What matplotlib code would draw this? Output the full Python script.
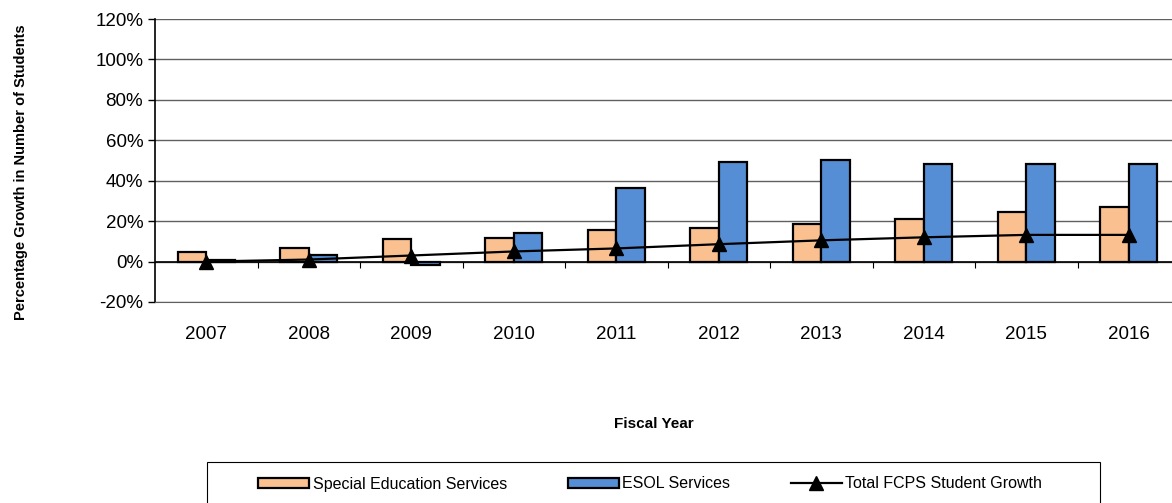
import matplotlib

matplotlib.use("Agg")
import matplotlib.pyplot as plt
import numpy as np
from matplotlib.patches import Rectangle
from matplotlib.ticker import FuncFormatter, MultipleLocator

years = ["2007", "2008", "2009", "2010", "2011", "2012", "2013", "2014", "2015", "2016"]
special_ed = [4.7, 6.6, 11.0, 11.9, 15.5, 16.8, 18.6, 20.9, 24.3, 27.0]
esol = [0.8, 3.3, -1.8, 14.0, 36.3, 49.5, 50.1, 48.5, 48.2, 48.2]
total_growth = [0.0, 1.0, 3.0, 5.0, 6.5, 8.6, 10.5, 12.0, 13.2, 13.2]

plt.rcParams["font.family"] = ["Liberation Sans", "DejaVu Sans"]

W, H = 1172, 503
fig = plt.figure(figsize=(W / 100, H / 100), dpi=100)
ax = fig.add_axes([155 / W, 1 - 302 / H, 1.0 - 155 / W, 283 / H])

x = np.arange(len(years))
w = 0.28
b1 = ax.bar(x - w / 2, special_ed, w, color="#FAC090", edgecolor="black", linewidth=1.6,
            label="Special Education Services", zorder=3)
b2 = ax.bar(x + w / 2, esol, w, color="#558ED5", edgecolor="black", linewidth=1.6,
            label="ESOL Services", zorder=3)
(ln,) = ax.plot(x, total_growth, color="black", linewidth=1.6, marker="^", markersize=10,
                label="Total FCPS Student Growth", zorder=4)

ax.axhline(0, color="black", linewidth=1.2, zorder=2)
ax.vlines(x[:-1] + 0.5, -3, 0, color="black", linewidth=0.8, zorder=2)

ax.set_ylim(-20, 120)
ax.set_xlim(-0.5, -0.5 + (W - 155) / 102.5)
ax.yaxis.set_major_locator(MultipleLocator(20))
ax.yaxis.set_major_formatter(FuncFormatter(lambda v, _: f"{v:.0f}%"))
ax.grid(axis="y", color="#606060", linewidth=1.0, zorder=0)
ax.set_xticks(x, years)
ax.tick_params(axis="x", length=0, pad=17, labelsize=13.5)
ax.tick_params(axis="y", direction="out", length=5, labelsize=13.5, width=1)
for side in ("top", "right"):
    ax.spines[side].set_visible(False)
ax.spines["bottom"].set_color("#606060")
ax.spines["left"].set_linewidth(1.2)

ax.set_ylabel("Percentage Growth in Number of Students", fontsize=10.5, fontweight="bold")
ax.yaxis.set_label_coords(-0.125, 0.46)
fig.text(653.5 / W, 1 - 424 / H, "Fiscal Year", ha="center", va="center", fontsize=11, fontweight="bold")

# legend box runs off the bottom edge of the picture
fig.patches.append(Rectangle((207 / W, -0.05), (1100 - 207) / W, 0.05 + (H - 462) / H,
                             transform=fig.transFigure, facecolor="white",
                             edgecolor="black", linewidth=0.8))
fig.legend([b1, b2, ln], [b1.get_label(), b2.get_label(), ln.get_label()],
           loc="center", bbox_to_anchor=(650 / W, 1 - 484 / H), ncol=3,
           fontsize=11.5, frameon=False, handlelength=3.2, handleheight=0.55,
           columnspacing=3.8, handletextpad=0.2, borderaxespad=0)

fig.savefig("out.png", dpi=100)
